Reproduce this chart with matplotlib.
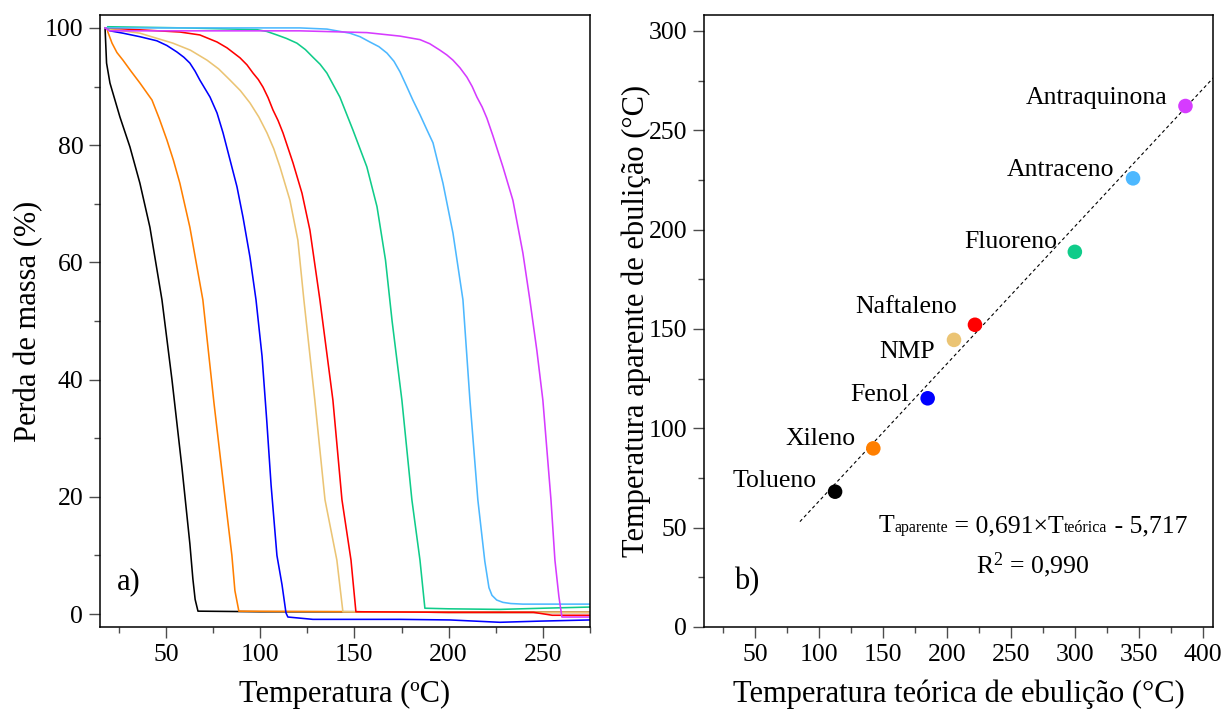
import numpy as np
import matplotlib
matplotlib.use('Agg')
import matplotlib.pyplot as plt
from matplotlib.ticker import MultipleLocator
from matplotlib.transforms import IdentityTransform

# ===============================================================
# Data
# ===============================================================
# TGA curves: temperature (C) and mass (%)
T_tolueno = [17.7, 18.5, 20.3, 25.6, 30.9, 36.2, 41.5, 47.9, 53.2, 58.5, 62.7, 64.3, 65.5, 67.0, 100, 150, 200, 275]
m_tolueno = [100, 94.0, 90.6, 84.8, 79.7, 73.5, 66.0, 53.6, 40.0, 25.0, 12.0, 6.0, 2.5, 0.5, 0.4, 0.4, 0.3, 0.3]

T_xileno = [18.7, 19.2, 21.4, 24.0, 27.2, 31.5, 36.2, 42.6, 46.5, 50.5, 54.0, 57.4, 62.7, 69.6, 75.5, 81.3, 85.0,
            86.6, 88.7, 150, 200, 275]
m_xileno = [100, 99.3, 97.4, 95.8, 94.5, 92.6, 90.6, 87.7, 84.5, 80.9, 77.4, 73.5, 66.0, 53.6, 36.0, 20.0, 10.0,
            4.0, 0.5, 0.4, 0.3, 0.3]

T_fenol = [18.7, 20.3, 27.2, 36.2, 45.2, 50.5, 55.8, 59.5, 62.7, 65.5, 68.0, 73.4, 77.1, 80.3, 84.0, 87.7, 90.9,
           94.6, 97.8, 101.0, 103.5, 105.8, 108.9, 111.6, 113.7, 114.7, 128, 174.2, 200.7, 227.2, 248.4, 275]
m_fenol = [100, 99.5, 99.1, 98.5, 97.8, 97.0, 95.9, 95.0, 94.0, 92.6, 91.1, 88.2, 85.5, 82.1, 77.5, 72.9, 67.7,
           60.9, 53.6, 44.0, 33.0, 22.0, 10.0, 5.0, 0.2, -0.5, -0.9, -0.9, -1.0, -1.4, -1.2, -1.0]

T_nmp = [17.7, 20.3, 36.2, 53.7, 63.0, 71.8, 78.0, 84.0, 89.5, 94.6, 99.3, 103.6, 107.2, 110.5, 115.8, 120.0,
         123.2, 129.0, 134.4, 140.7, 143.9, 200, 275]
m_nmp = [100, 99.8, 99.1, 97.4, 96.2, 94.5, 93.0, 91.1, 89.3, 87.2, 84.8, 82.1, 79.4, 76.3, 70.6, 63.8,
         53.6, 36.5, 19.5, 9.2, 0.4, 0.3, 0.3]

T_naftaleno = [17.7, 57.4, 68.0, 77.1, 82.4, 89.3, 93.0, 96.2, 99.0, 101.5, 104.2, 106.8, 109.5, 112.1, 117.4,
               122.2, 126.4, 131.7, 138.6, 143.4, 148.2, 150.8, 200, 245, 255, 275]
m_naftaleno = [100, 99.3, 98.8, 97.6, 96.6, 94.9, 93.7, 92.3, 91.2, 89.9, 88.1, 86.0, 84.2, 82.1, 77.0,
               71.8, 65.5, 53.6, 36.5, 19.5, 9.2, 0.4, 0.3, 0.3, -0.2, -0.2]

T_fluoreno = [19.2, 60, 98.3, 103.5, 108.9, 114.0, 119.5, 124.0, 128.0, 131.8, 135.4, 142.3, 149.2, 156.6,
              162.0, 166.5, 170.0, 175.2, 180.5, 184.8, 187.4, 200, 227.2, 250, 275]
m_fluoreno = [100.2, 100.0, 99.7, 99.4, 98.8, 98.2, 97.4, 96.3, 95.0, 93.8, 92.3, 88.2, 82.6, 76.3,
              69.5, 60.4, 50.0, 36.5, 19.5, 9.2, 1.0, 0.9, 0.8, 1.0, 1.2]

T_antraceno = [17.7, 121.1, 135.4, 147.6, 153.0, 158.2, 163.0, 167.3, 171.0, 174.2, 177.5, 181.0, 184.8, 188.5,
               191.7, 197.0, 202.3, 207.6, 211.3, 215.5, 219.2, 221.4, 223.0, 225.5, 228.8, 233.0, 239.4, 275]
m_antraceno = [100, 100, 99.8, 99.1, 98.5, 97.6, 96.8, 95.7, 94.3, 92.5, 90.2, 87.7, 85.2, 82.6,
               80.4, 73.5, 65.0, 53.6, 36.5, 19.5, 9.0, 4.5, 3.2, 2.4, 2.0, 1.8, 1.7, 1.7]

T_antraquinona = [17.7, 20.0, 121.1, 156.6, 174.2, 184.8, 190.0, 195.4, 199.0, 202.3, 206.0, 209.7, 212.5, 215.0,
                  217.8, 220.3, 223.5, 228.8, 234.1, 239.4, 243.1, 246.8, 250.0, 254.3, 256.4, 258.5, 260.1, 275]
m_antraquinona = [100, 99.5, 99.5, 99.2, 98.6, 98.0, 97.3, 96.2, 95.4, 94.5, 93.2, 91.6, 90.0, 88.2,
                  86.5, 84.6, 81.6, 76.3, 70.6, 61.6, 53.6, 45.0, 36.5, 19.5, 9.2, 3.0, -0.5, -0.5]

# boiling temperatures: theoretical vs apparent
nomes = ['Tolueno', 'Xileno', 'Fenol', 'NMP', 'Naftaleno', 'Fluoreno', 'Antraceno', 'Antraquinona']
T_teorica = [112.5, 142.4, 184.9, 205.5, 221.9, 300.0, 345.5, 386.5]
T_aparente = [68.1, 89.9, 115.1, 144.5, 152.1, 188.8, 225.8, 262.2]

# linear fit reported on the plot
a_fit = 0.691
b_fit = -5.717
x_fit = [85, 420]

cores = ['#000000', '#FF7F00', '#0000FF', '#EBC474', '#FF0000', '#10CC8A', '#4DB8FF', '#D63BFF']

# ===============================================================
# Plot settings
# ===============================================================
plt.rcParams['font.family'] = ['Liberation Serif', 'DejaVu Serif']
plt.rcParams['mathtext.fontset'] = 'custom'
plt.rcParams['mathtext.rm'] = 'Liberation Serif'
plt.rcParams['mathtext.it'] = 'Liberation Serif:italic'
plt.rcParams['mathtext.bf'] = 'Liberation Serif:bold'
fs_tick = 18.5
fs_label = 22
fs_sub = 11.5
lw = 1.15

fig = plt.figure(figsize=(12.22, 7.15), dpi=100)
ax1 = fig.add_axes([0.0818, 0.1231, 0.4010, 0.8559])
ax2 = fig.add_axes([0.5761, 0.1231, 0.4165, 0.8559])

# ---------------------------------------------------------------
# a) TGA curves
# ---------------------------------------------------------------
curvas = [(T_tolueno, m_tolueno), (T_xileno, m_xileno), (T_fenol, m_fenol), (T_nmp, m_nmp),
          (T_naftaleno, m_naftaleno), (T_fluoreno, m_fluoreno), (T_antraceno, m_antraceno),
          (T_antraquinona, m_antraquinona)]
for (T, m), c in zip(curvas, cores):
    ax1.plot(T, m, color=c, lw=lw)

ax1.set_xlim(15, 275)
ax1.set_ylim(-2.2, 102.2)
ax1.xaxis.set_major_locator(MultipleLocator(50))
ax1.xaxis.set_minor_locator(MultipleLocator(25))
ax1.yaxis.set_major_locator(MultipleLocator(20))
ax1.yaxis.set_minor_locator(MultipleLocator(10))
ax1.set_xlabel('Temperatura (ºC)', fontsize=fs_label, labelpad=10)
ax1.set_ylabel('Perda de massa (%)', fontsize=fs_label, labelpad=1)
ax1.text(0.035, 0.05, 'a)', transform=ax1.transAxes, fontsize=fs_label, va='bottom', ha='left')

# ---------------------------------------------------------------
# b) apparent vs theoretical boiling temperature
# ---------------------------------------------------------------
ax2.plot(x_fit, [a_fit * x + b_fit for x in x_fit], color='k', ls=(0, (3, 2.5)), lw=0.8, zorder=1)
ax2.scatter(T_teorica, T_aparente, s=110, c=cores, edgecolors='none', zorder=3)

offsets = {'Tolueno': (-18, 11), 'Xileno': (-18, 9), 'Fenol': (-19, 3), 'NMP': (-19, -12),
           'Naftaleno': (-18, 18), 'Fluoreno': (-18, 10), 'Antraceno': (-19, 8), 'Antraquinona': (-18, 8)}
for nome, x, y in zip(nomes, T_teorica, T_aparente):
    ax2.annotate(nome, (x, y), xytext=offsets[nome], textcoords='offset pixels',
                 ha='right', va='center', fontsize=fs_tick)

ax2.text(0.06, 0.05, 'b)', transform=ax2.transAxes, fontsize=fs_label, va='bottom', ha='left')

ax2.set_xlim(10, 408)
ax2.set_ylim(0, 308)
ax2.xaxis.set_major_locator(MultipleLocator(50))
ax2.xaxis.set_minor_locator(MultipleLocator(25))
ax2.yaxis.set_major_locator(MultipleLocator(50))
ax2.yaxis.set_minor_locator(MultipleLocator(25))
ax2.set_xlabel('Temperatura teórica de ebulição (°C)', fontsize=fs_label, labelpad=10)
ax2.set_ylabel('Temperatura aparente de ebulição (°C)', fontsize=fs_label, labelpad=-2)

for ax in (ax1, ax2):
    ax.tick_params(which='major', direction='out', length=8, width=1, color='0.3',
                   labelsize=fs_tick, pad=4)
    ax.tick_params(which='minor', direction='out', length=4, width=1, color='0.3')
    for s in ax.spines.values():
        s.set_linewidth(1.1)

# x tick labels reach the right edge of the figure
for lab in ax2.get_xticklabels():
    lab.set_clip_on(False)

# ---------------------------------------------------------------
# fit equation: small subscript words sit on the baseline
# ---------------------------------------------------------------
pecas = [('T', fs_tick), ('aparente', fs_sub), (' = 0,691×T', fs_tick), ('teórica', fs_sub), (' - 5,717', fs_tick)]
renderer = fig.canvas.get_renderer()
textos = [fig.text(0, 183, s, fontsize=f, transform=IdentityTransform(), va='baseline', ha='left')
          for s, f in pecas]
larguras = [t.get_window_extent(renderer).width for t in textos]
x0 = 1033 - sum(larguras) / 2
for t, w in zip(textos, larguras):
    t.set_x(x0)
    x0 += w
fig.text(1033, 142, 'R$^2$ = 0,990', fontsize=fs_tick, transform=IdentityTransform(),
         va='baseline', ha='center')

fig.savefig('out.png', dpi=100)
